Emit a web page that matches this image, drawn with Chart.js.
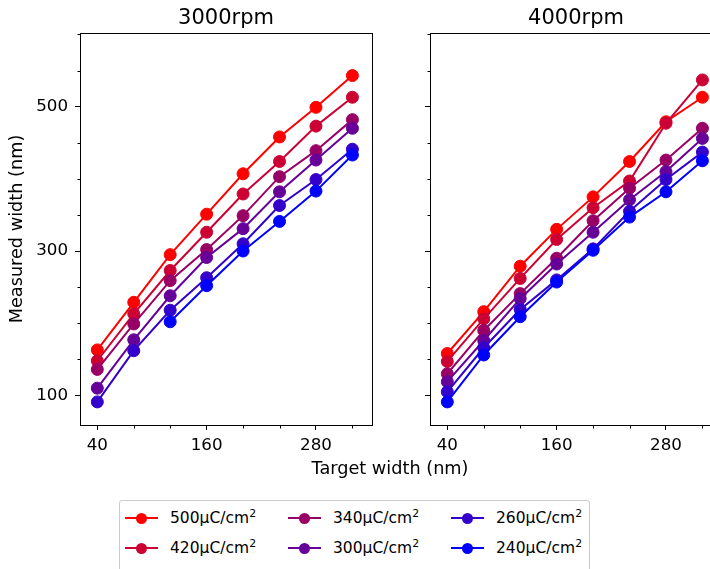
<!DOCTYPE html>
<html>
<head>
<meta charset="utf-8">
<script src="https://cdn.jsdelivr.net/npm/chart.js@4.4.1/dist/chart.umd.min.js"></script>
<style>
  html, body { margin: 0; padding: 0; background: #fff; }
  body { width: 710px; height: 569px; overflow: hidden; position: relative; font-family: 'DejaVu Sans', sans-serif; color: #000; }
  canvas { position: absolute; top: 0; }
  #c3000 { left: 0; }
  #c4000 { left: 380px; }
  #xtitle { position: absolute; left: 0; width: 780px; top: 460px; text-align: center; font-size: 17.7px; line-height: 1; }
  #legend { position: absolute; left: 119px; top: 500px; width: 469px; height: 90px; border: 1px solid #ccc; border-radius: 3px; background: #fff; }
  .item { position: absolute; height: 20px; width: 150px; }
  .mk { position: absolute; left: 0; top: 9px; width: 33px; height: 2px; }
  .dot { position: absolute; left: 11px; top: -4px; width: 11px; height: 11px; border-radius: 50%; }
  .lbl { position: absolute; left: 45px; top: 0; font-size: 15.5px; line-height: 20px; white-space: nowrap; }
  .lbl sup { font-size: 0.7em; line-height: 0; vertical-align: 0.55em; }
</style>
</head>
<body>
<canvas id="c3000" width="380" height="460"></canvas>
<canvas id="c4000" width="350" height="460"></canvas>
<div id="xtitle">Target width (nm)</div>
<div id="legend"></div>
<script>
// target widths (nm) on the x axis
var targetWidth = [40, 80, 120, 160, 200, 240, 280, 320];
var xTickLabels = [40, 160, 280];
var yTickLabels = [100, 300, 500];
var doses = ['500', '420', '340', '300', '260', '240'];
var doseColors = ['#ff0000', '#cc0033', '#990066', '#660099', '#3300cc', '#0000ff'];

// 3000rpm, measured width (nm)
var rpm3000_500 = [163, 229, 295, 351, 407, 458, 499, 543];
var rpm3000_420 = [148, 213, 273, 326, 379, 424, 473, 513];
var rpm3000_340 = [136, 199, 259, 302, 349, 403, 439, 482];
var rpm3000_300 = [110, 177, 238, 291, 331, 382, 426, 470];
var rpm3000_260 = [91, 162, 218, 263, 310, 363, 399, 441];
var rpm3000_240 = [null, null, 202, 252, 300, 341, 383, 433];

// 4000rpm, measured width (nm)
var rpm4000_500 = [158, 216, 279, 330, 375, 424, 479, 513];
var rpm4000_420 = [147, 206, 262, 316, 360, 397, 477, 537];
var rpm4000_340 = [130, 190, 241, 290, 342, 387, 426, 470];
var rpm4000_300 = [119, 176, 234, 282, 326, 371, 410, 456];
var rpm4000_260 = [105, 166, 219, 260, 303, 355, 399, 437];
var rpm4000_240 = [91, 156, 209, 257, 301, 347, 382, 425];

var rpm3000 = [rpm3000_500, rpm3000_420, rpm3000_340, rpm3000_300, rpm3000_260, rpm3000_240];
var rpm4000 = [rpm4000_500, rpm4000_420, rpm4000_340, rpm4000_300, rpm4000_260, rpm4000_240];

Chart.defaults.font.family = "'DejaVu Sans', sans-serif";
Chart.defaults.color = '#000';

function isMajorX(v) { return xTickLabels.indexOf(v) >= 0; }
function isMajorY(v) { return yTickLabels.indexOf(v) >= 0 || v === 600 || v === 200 || v === 400; }

// box round the axes, the subplot title and the short minor ticks
var frame = {
  id: 'frame',
  afterDraw: function(chart) {
    var a = chart.chartArea, ctx = chart.ctx;
    ctx.save();
    ctx.strokeStyle = '#000';
    ctx.lineWidth = 1;
    var l = Math.round(a.left) + 0.5, t = Math.round(a.top) + 0.5;
    var r = Math.round(a.right) + 0.5, b = Math.round(a.bottom) + 0.5;
    ctx.strokeRect(l, t, r - l, b - t);
    var xs = chart.scales.x, ys = chart.scales.y;
    ctx.beginPath();
    xs.ticks.forEach(function(tk) {
      if (isMajorX(tk.value)) return;
      var x = Math.round(xs.getPixelForValue(tk.value)) + 0.5;
      ctx.moveTo(x, b); ctx.lineTo(x, b + 3);
    });
    ys.ticks.forEach(function(tk) {
      if (yTickLabels.indexOf(tk.value) >= 0) return;
      var y = Math.round(ys.getPixelForValue(tk.value)) + 0.5;
      ctx.moveTo(l, y); ctx.lineTo(l - 3, y);
    });
    ctx.stroke();
    ctx.fillStyle = '#000';
    ctx.font = "21px 'DejaVu Sans', sans-serif";
    ctx.textAlign = 'center';
    ctx.textBaseline = 'alphabetic';
    ctx.fillText(chart.options.plugins.frame.title, (a.left + a.right) / 2, 23.5);
    ctx.restore();
  }
};

function makeChart(id, title, series, showY) {
  var datasets = [];
  for (var i = 0; i < series.length; i++) {
    datasets.push({
      label: doses[i] + 'µC/cm²',
      data: series[i],
      borderColor: doseColors[i],
      backgroundColor: doseColors[i],
      pointBackgroundColor: doseColors[i],
      pointBorderColor: doseColors[i],
      borderWidth: 2,
      pointRadius: 6,
      pointBorderWidth: 1,
      tension: 0,
      order: series.length - i
    });
  }
  var ctx = document.getElementById(id);
  return new Chart(ctx, {
    type: 'line',
    data: { labels: targetWidth, datasets: datasets },
    plugins: [frame],
    options: {
      responsive: false,
      animation: false,
      devicePixelRatio: 1,
      layout: { padding: { top: 33, right: 8, left: 0, bottom: 0 } },
      plugins: {
        legend: { display: false },
        tooltip: { enabled: false },
        title: { display: false },
        frame: { title: title }
      },
      scales: {
        x: {
          type: 'linear',
          min: 21,
          max: 341.5,
          afterBuildTicks: function(s) {
            s.ticks = targetWidth.map(function(v) { return { value: v }; });
          },
          afterFit: function(s) { s.height = 35; },
          ticks: {
            autoSkip: false,
            maxRotation: 0,
            padding: 6,
            font: { size: 16.7 },
            callback: function(v) { return isMajorX(v) ? String(v) : ''; }
          },
          grid: {
            drawOnChartArea: false, drawTicks: true, tickLength: 5,
            tickColor: function(c) { return c.tick && isMajorX(c.tick.value) ? '#000' : 'rgba(0,0,0,0)'; }
          },
          border: { color: '#000', width: 1 }
        },
        y: {
          type: 'linear',
          min: 59,
          max: 602,
          afterBuildTicks: function(s) {
            var t = [];
            for (var v = 100; v <= 600; v += 50) t.push({ value: v });
            s.ticks = t;
          },
          afterFit: function(s) { s.width = showY ? 80 : 50; },
          ticks: {
            autoSkip: false,
            padding: 7,
            font: { size: 16.7 },
            callback: function(v) { return showY && yTickLabels.indexOf(v) >= 0 ? String(v) : ''; }
          },
          grid: {
            drawOnChartArea: false, drawTicks: true, tickLength: 5,
            tickColor: function(c) { return c.tick && yTickLabels.indexOf(c.tick.value) >= 0 ? '#000' : 'rgba(0,0,0,0)'; }
          },
          border: { color: '#000', width: 1 },
          title: {
            display: showY,
            text: 'Measured width (nm)',
            font: { size: 17.7 },
            padding: { top: 7, bottom: 0 },
            color: '#000'
          }
        }
      }
    }
  });
}

makeChart('c3000', '3000rpm', rpm3000, true);
makeChart('c4000', '4000rpm', rpm4000, false);

// legend, three columns of two rows, column-major like the reference
var legend = document.getElementById('legend');
var colX = [5, 168, 331];
var rowY = [7, 37];
for (var i = 0; i < doses.length; i++) {
  var item = document.createElement('div');
  item.className = 'item';
  item.style.left = colX[Math.floor(i / 2)] + 'px';
  item.style.top = rowY[i % 2] + 'px';
  item.innerHTML = '<div class="mk" style="background:' + doseColors[i] + '"><div class="dot" style="background:' +
    doseColors[i] + '"></div></div><div class="lbl">' + doses[i] + 'μC/cm<sup>2</sup></div>';
  legend.appendChild(item);
}
</script>
</body>
</html>
